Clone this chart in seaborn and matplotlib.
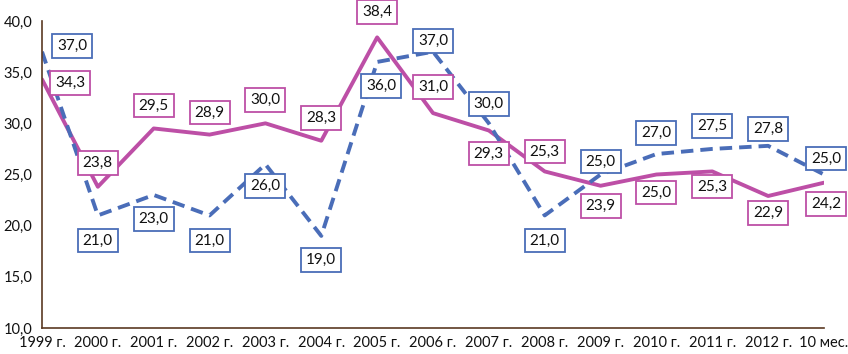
import numpy as np
import pandas as pd
import matplotlib
matplotlib.use("Agg")
import matplotlib.pyplot as plt
import seaborn as sns

# Данные
periods = ["1999 г.", "2000 г.", "2001 г.", "2002 г.", "2003 г.", "2004 г.", "2005 г.",
           "2006 г.", "2007 г.", "2008 г.", "2009 г.", "2010 г.", "2011 г.", "2012 г.", "10 мес."]
blue_vals = [37.0, 21.0, 23.0, 21.0, 26.0, 19.0, 36.0, 37.0, 30.0, 21.0, 25.0, 27.0, 27.5, 27.8, 25.0]
pink_vals = [34.3, 23.8, 29.5, 28.9, 30.0, 28.3, 38.4, 31.0, 29.3, 25.3, 23.9, 25.0, 25.3, 22.9, 24.2]

# смещения подписей (пиксели)
blue_off = [(30, 6), (0, -25), (0, -24), (0, -25), (0, -22), (0, -24), (4, -24), (0, 11),
            (0, 19), (0, -25), (0, 13), (0, 21), (0, 23), (0, 17), (2, 16)]
pink_off = [(28, -4), (0, 24), (0, 23), (0, 22), (0, 23), (0, 23), (0, 25), (0, 26),
            (0, -23), (0, 20), (0, -20), (0, -18), (0, -15), (0, -17), (2, -21)]

BLUE = "#4A6DB8"
PINK = "#BD4FA6"
AXC = "#5B3A22"

sns.set_style("white")
plt.rcParams["font.family"] = ["Lato", "DejaVu Sans"]

df = pd.DataFrame({"x": np.arange(len(periods)), "blue": blue_vals, "pink": pink_vals})

fig = plt.figure(figsize=(8.48, 3.54), dpi=100)
ax = fig.add_axes([42 / 848, 1 - 328 / 354, (824 - 42) / 848, (328 - 21) / 354])

sns.lineplot(data=df, x="x", y="pink", ax=ax, color=PINK, linewidth=2.8)
sns.lineplot(data=df, x="x", y="blue", ax=ax, color=BLUE, linewidth=2.8)
ax.lines[-1].set_dashes([3.2, 1.8])

def fmt(v):
    return f"{v:.1f}".replace(".", ",")

for vals, offs, col in [(blue_vals, blue_off, BLUE), (pink_vals, pink_off, PINK)]:
    for i, (v, (dx, dy)) in enumerate(zip(vals, offs)):
        ax.annotate(fmt(v), xy=(i, v), xytext=(dx, dy), textcoords="offset pixels",
                    ha="center", va="center", fontsize=11, color="#111111",
                    bbox=dict(boxstyle="square,pad=0.32", fc="white", ec=col, lw=1.3),
                    annotation_clip=False, zorder=5)

ax.set_xlim(0, len(periods) - 1)
ax.set_ylim(10, 40)
ax.set_yticks(np.arange(10, 41, 5))
ax.set_yticklabels([fmt(v) for v in np.arange(10, 41, 5)], fontsize=10.5)
ax.set_xticks(df["x"])
ax.set_xticklabels(periods, fontsize=10.5)
ax.set_xlabel("")
ax.set_ylabel("")

sns.despine(ax=ax)
for s in ["left", "bottom"]:
    ax.spines[s].set_color(AXC)
    ax.spines[s].set_linewidth(1.2)
ax.tick_params(axis="both", which="both", direction="out", length=4, width=1.2,
               color=AXC, labelcolor="#111111", pad=2)
ax.tick_params(axis="y", pad=3)
ax.grid(False)

fig.savefig("out.png", dpi=100)
